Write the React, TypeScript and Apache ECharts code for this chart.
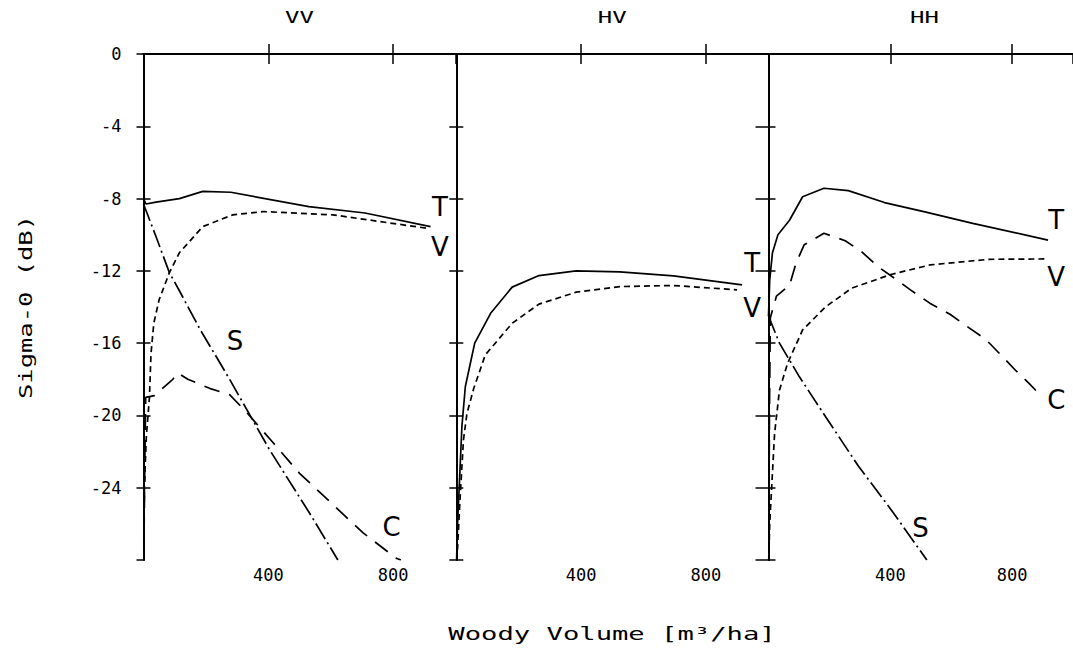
import React, { useEffect, useRef } from "react";
import * as echarts from "echarts";

// ---------- data ----------
const panelTitles = ["VV", "HV", "HH"];
const xAxisTitle = "Woody Volume [m³/ha]";
const yAxisTitle = "Sigma-0 (dB)";
const xTickLabels = ["400", "800"];

// VV panel
const vvTotalX = [0, 8, 40, 115, 190, 280, 530, 710, 920];
const vvTotalY = [-8.0, -8.3, -8.2, -8.0, -7.6, -7.65, -8.45, -8.8, -9.55];
const vvVolX = [1, 3, 9, 19, 24, 33, 50, 83, 115, 190, 286, 383, 607, 907];
const vvVolY = [-27, -23.9, -21.2, -19.0, -16.6, -14.9, -13.6, -12.1, -11.0, -9.55, -8.9, -8.72, -8.9, -9.64];
const vvSoilX = [0, 40, 83, 115, 180, 276, 404, 532, 623];
const vvSoilY = [-8.3, -10.1, -12.1, -13.1, -15.2, -18.0, -21.9, -25.4, -28];
const vvCrossX = [1, 4, 7, 35, 94, 110, 142, 212, 276, 329, 415, 500, 602, 704, 810, 825];
const vvCrossY = [-28, -23, -19.0, -18.9, -18.0, -17.65, -18.0, -18.5, -18.85, -19.8, -21.5, -23.2, -24.85, -26.5, -27.9, -28];

// HV panel
const hvTotalX = [1, 4, 10, 18, 29, 59, 110, 179, 265, 384, 524, 696, 916];
const hvTotalY = [-28, -26, -23.7, -20.6, -18.4, -16.0, -14.35, -12.9, -12.26, -12.0, -12.06, -12.28, -12.78];
const hvVolX = [2, 8, 13, 23, 34, 56, 93, 179, 265, 384, 524, 696, 900];
const hvVolY = [-28, -26, -24.3, -21.35, -19.9, -18.5, -16.65, -14.9, -13.84, -13.18, -12.87, -12.81, -13.05];

// HH panel
const hhTotalX = [0, 4, 13, 31, 69, 112, 182, 262, 381, 510, 671, 918];
const hhTotalY = [-14.5, -12.5, -11.0, -10.0, -9.2, -7.9, -7.43, -7.56, -8.22, -8.72, -9.37, -10.3];
const hhVolX = [1, 4, 10, 20, 36, 63, 112, 187, 273, 402, 531, 724, 918];
const hhVolY = [-28, -26, -24.1, -21.0, -18.6, -17.1, -15.27, -14.0, -12.96, -12.2, -11.67, -11.36, -11.34];
const hhCrossX = [1, 3, 6, 26, 69, 90, 117, 182, 252, 305, 359, 413, 466, 531, 596, 660, 714, 768, 811, 854, 897];
const hhCrossY = [-28, -20, -14.6, -13.4, -12.8, -11.6, -10.56, -9.92, -10.33, -10.93, -11.76, -12.4, -13.05, -13.8, -14.4, -15.17, -15.8, -16.74, -17.5, -18.2, -18.95];
const hhSoilX = [0, 36, 101, 187, 295, 402, 520];
const hhSoilY = [-14.5, -16.0, -17.85, -20.06, -22.8, -25.2, -28];

// curve letters (name, x, y) per panel
const vvLetterNames = ["T", "V", "S", "C"];
const vvLetterX = [950, 950, 293, 795];
const vvLetterY = [-8.45, -10.66, -15.86, -26.15];
const hvLetterNames = ["T", "V"];
const hvLetterX = [948, 948];
const hvLetterY = [-11.58, -14.07];
const hhLetterNames = ["T", "V", "C", "S"];
const hhLetterX = [945, 945, 945, 499];
const hhLetterY = [-9.18, -12.32, -19.14, -26.23];

// ---------- helpers ----------
const zip = (xs: number[], ys: number[]) => xs.map((x, i) => [x, ys[i]]);

const INK = "#000";
const MONO = "'DejaVu Sans Mono', 'Liberation Mono', monospace";
const LETTER_FONT = "'DejaVu Sans', sans-serif";

const dashStyles: Record<string, any> = {
  T: "solid",
  V: [6, 4],
  C: [16, 10],
  S: [18, 4, 2, 4],
};

const gridLefts = [143.5, 456.3, 768.5];
const gridWidth = 312;
const gridTop = 54;
const gridHeight = 506;

export default function App() {
  const ref = useRef<HTMLDivElement>(null);

  useEffect(() => {
    if (!ref.current) return;
    const chart = echarts.init(ref.current, null, { renderer: "svg" });

    const panels = [
      {
        curves: [
          { key: "T", data: zip(vvTotalX, vvTotalY) },
          { key: "V", data: zip(vvVolX, vvVolY) },
          { key: "S", data: zip(vvSoilX, vvSoilY) },
          { key: "C", data: zip(vvCrossX, vvCrossY) },
        ],
        letters: vvLetterNames.map((n, i) => ({ name: n, value: [vvLetterX[i], vvLetterY[i]] })),
      },
      {
        curves: [
          { key: "T", data: zip(hvTotalX, hvTotalY) },
          { key: "V", data: zip(hvVolX, hvVolY) },
        ],
        letters: hvLetterNames.map((n, i) => ({ name: n, value: [hvLetterX[i], hvLetterY[i]] })),
      },
      {
        curves: [
          { key: "T", data: zip(hhTotalX, hhTotalY) },
          { key: "V", data: zip(hhVolX, hhVolY) },
          { key: "C", data: zip(hhCrossX, hhCrossY) },
          { key: "S", data: zip(hhSoilX, hhSoilY) },
        ],
        letters: hhLetterNames.map((n, i) => ({ name: n, value: [hhLetterX[i], hhLetterY[i]] })),
      },
    ];

    const grid: any[] = [];
    const xAxis: any[] = [];
    const yAxis: any[] = [];
    const series: any[] = [];

    const axisLine = { show: true, lineStyle: { color: INK, width: 1.8 } };
    const tickStyle = { color: INK, width: 1.5 };

    panels.forEach((p, gi) => {
      grid.push({ left: gridLefts[gi], top: gridTop, width: gridWidth, height: gridHeight, containLabel: false });
      // bottom x axis
      xAxis.push({
        type: "value", gridIndex: gi, position: "bottom", min: 0, max: 1000, interval: 400,
        axisLine, splitLine: { show: false },
        axisTick: { show: true, inside: true, length: 10, lineStyle: tickStyle },
        axisLabel: {
          show: true, showMinLabel: false, showMaxLabel: false, margin: 6,
          color: INK, fontFamily: MONO, fontSize: 17,
          formatter: (v: number) => (xTickLabels.includes(String(v)) ? String(v) : ""),
        },
      });
      // top x axis
      xAxis.push({
        type: "value", gridIndex: gi, position: "top", min: 0, max: 1000, interval: 400,
        axisLine, splitLine: { show: false },
        axisTick: { show: true, inside: true, length: 10, lineStyle: tickStyle },
        axisLabel: { show: false },
      });
      // left y axis
      yAxis.push({
        type: "value", gridIndex: gi, position: "left", min: -28, max: 0, interval: 4,
        axisLine, splitLine: { show: false },
        axisTick: { show: true, inside: true, length: 7, lineStyle: tickStyle },
        axisLabel: {
          show: gi === 0, showMinLabel: false, margin: 22,
          color: INK, fontFamily: MONO, fontSize: 17,
        },
      });
      // right y axis
      yAxis.push({
        type: "value", gridIndex: gi, position: "right", min: -28, max: 0, interval: 4,
        axisLine, splitLine: { show: false },
        axisTick: { show: true, inside: true, length: gi === 2 ? 13 : 7, lineStyle: tickStyle },
        axisLabel: { show: false },
      });

      p.curves.forEach((c) => {
        series.push({
          type: "line",
          name: `${panelTitles[gi]} ${c.key}`,
          xAxisIndex: gi * 2,
          yAxisIndex: gi * 2,
          data: c.data,
          showSymbol: false,
          symbol: "none",
          smooth: false,
          clip: true,
          lineStyle: { color: INK, width: 1.7, type: dashStyles[c.key] },
        });
      });

      series.push({
        type: "scatter",
        name: `${panelTitles[gi]} labels`,
        xAxisIndex: gi * 2,
        yAxisIndex: gi * 2,
        data: p.letters,
        symbolSize: 1,
        itemStyle: { color: INK, opacity: 0 },
        label: {
          show: true,
          position: "inside",
          formatter: (d: any) => d.name,
          color: INK,
          opacity: 1,
          textBorderWidth: 0,
          textBorderColor: "transparent",
          fontFamily: LETTER_FONT,
          fontWeight: "normal",
          fontSize: 26,
        },
      });
    });

    const graphic: any[] = [];
    panelTitles.forEach((t, i) => {
      graphic.push({
        type: "text",
        x: gridLefts[i] + gridWidth / 2,
        y: 18,
        scaleX: 1.5,
        style: { text: t, fill: INK, font: `16px ${MONO}`, align: "center", verticalAlign: "middle" },
      });
    });
    graphic.push({
      type: "text",
      x: (gridLefts[0] + gridLefts[2] + gridWidth) / 2,
      y: 634,
      scaleX: 1.6,
      style: { text: xAxisTitle, fill: INK, font: `17px ${MONO}`, align: "center", verticalAlign: "middle" },
    });
    graphic.push({
      type: "text",
      x: 26,
      y: gridTop + gridHeight / 2,
      rotation: Math.PI / 2,
      scaleX: 1.5,
      style: { text: yAxisTitle, fill: INK, font: `17px ${MONO}`, align: "center", verticalAlign: "middle" },
    });

    chart.setOption({
      animation: false,
      backgroundColor: "#fff",
      grid,
      xAxis,
      yAxis,
      series,
      graphic,
    });

    return () => chart.dispose();
  }, []);

  return (
    <div
      ref={ref}
      style={{ position: "fixed", left: 0, top: 0, width: 1073, height: 651, background: "#fff" }}
    />
  );
}
